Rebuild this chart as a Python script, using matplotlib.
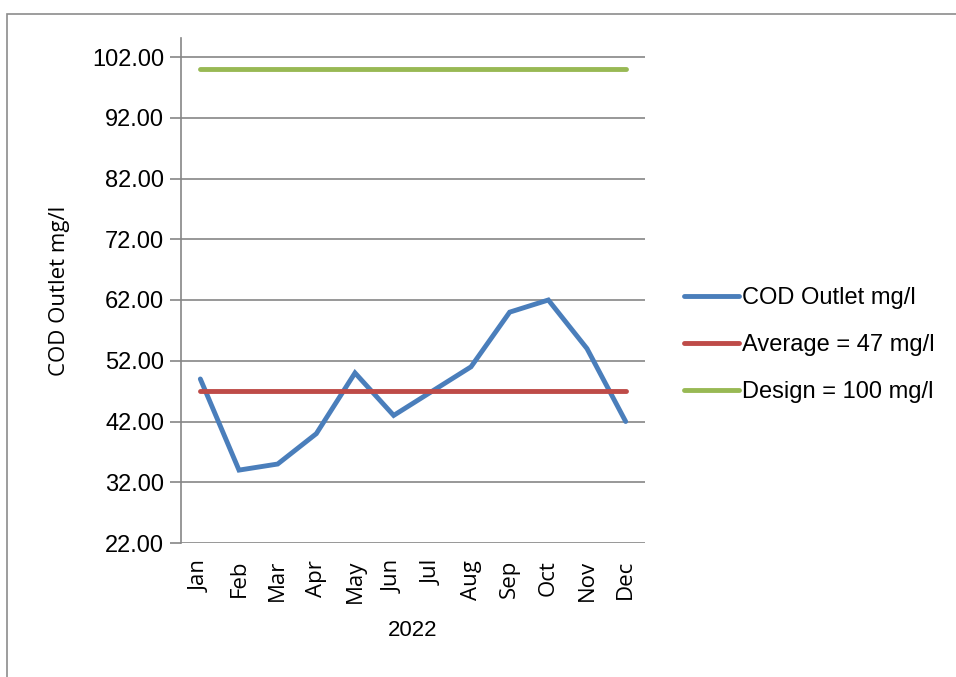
import matplotlib
matplotlib.use("Agg")
import matplotlib.pyplot as plt
from matplotlib.patches import Rectangle

months = ["Jan", "Feb", "Mar", "Apr", "May", "Jun", "Jul", "Aug", "Sep", "Oct", "Nov", "Dec"]
cod_outlet = [49, 34, 35, 40, 50, 43, 47, 51, 60, 62, 54, 42]
average = [47] * 12
design = [100] * 12
yticks = [22, 32, 42, 52, 62, 72, 82, 92, 102]

plt.rcParams['font.family'] = ['Liberation Sans', 'DejaVu Sans']

W, H = 956, 677
fig = plt.figure(figsize=(W / 100, H / 100), dpi=100)

ax_l, ax_r, ax_t, ax_b = 181, 645, 38, 543
ax = fig.add_axes([ax_l / W, 1 - ax_b / H, (ax_r - ax_l) / W, (ax_b - ax_t) / H])

# chart-area border
fig.patches.append(Rectangle((7 / W, -0.1), 1.2, 1 - 14 / H + 0.1, transform=fig.transFigure,
                             fill=False, edgecolor="#8c8c8c", linewidth=1.2))

x = list(range(len(months)))
lw = 3.5
ax.plot(x, cod_outlet, color="#4A7EBB", lw=lw, solid_capstyle="round", solid_joinstyle="miter",
        label="COD Outlet mg/l", zorder=3)
ax.plot(x, average, color="#BE4B48", lw=lw, solid_capstyle="round", label="Average = 47 mg/l", zorder=3)
ax.plot(x, design, color="#98B954", lw=lw, solid_capstyle="round", label="Design = 100 mg/l", zorder=3)

ax.set_xlim(-0.5, len(months) - 0.5)
px_per_unit = (543 - 57) / 80.0
ax.set_ylim(22, 22 + (ax_b - ax_t) / px_per_unit)
ax.set_yticks(yticks)
ax.set_yticklabels([f"{v:.2f}" for v in yticks], fontsize=17)
ax.set_xticks(x)
ax.set_xticklabels(months, rotation=90, fontsize=16, family=['Open Sans', 'DejaVu Sans'])
ax.tick_params(axis='x', length=0, pad=12)
ax.tick_params(axis='y', length=8, color="#868686", width=1.2, pad=4)

ax.grid(axis='y', color="#868686", linewidth=1.2, zorder=0)
ax.set_axisbelow(True)
for s in ["top", "right", "bottom"]:
    ax.spines[s].set_visible(False)
ax.spines["left"].set_color("#868686")
ax.spines["left"].set_linewidth(1.2)

ax.set_ylabel("COD Outlet mg/l", fontsize=16, family=['Open Sans', 'DejaVu Sans'], labelpad=16)
ax.set_xlabel("2022", fontsize=16, labelpad=12)

leg = ax.legend(loc="center left", bbox_to_anchor=(684 / W, 1 - 345 / H), bbox_transform=fig.transFigure,
                frameon=False, fontsize=17, handlelength=2.35, handletextpad=0.1, labelspacing=1.05,
                borderaxespad=0, borderpad=0)

fig.savefig("out.png", dpi=100)
